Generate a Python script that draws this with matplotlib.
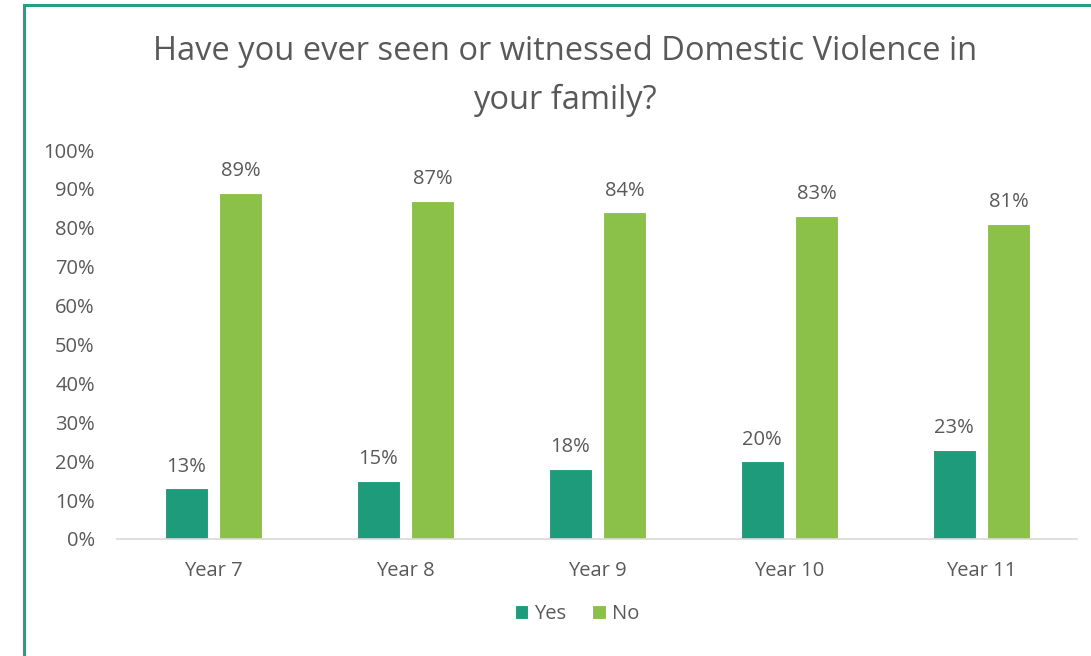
import matplotlib
matplotlib.use("Agg")
import matplotlib.pyplot as plt
import numpy as np
from matplotlib.patches import Rectangle

plt.rcParams['font.family'] = ['Open Sans', 'DejaVu Sans']

years = ["Year 7", "Year 8", "Year 9", "Year 10", "Year 11"]
yes_pct = [13, 15, 18, 20, 23]
no_pct = [89, 87, 84, 83, 81]

yes_col = "#1E9B7A"
no_col = "#8BC149"
grey = "#595959"

W, H = 1091, 656
fig = plt.figure(figsize=(W / 100, H / 100), dpi=100)

# green frame around the chart area (runs off the right/bottom edge)
fig.patches.append(Rectangle((24 / W, -0.1), 1.2, (H - 5) / H + 0.1, transform=fig.transFigure,
                             fill=False, edgecolor="#23A07E", linewidth=2.2))

ax = fig.add_axes([117 / W, 1 - 539 / H, (1077 - 117) / W, (539 - 150) / H])

x = np.arange(len(years))
bw = 0.225
ax.bar(x - 0.14, yes_pct, bw, color=yes_col, edgecolor="white", linewidth=0.8, label="Yes")
ax.bar(x + 0.145, no_pct, bw, color=no_col, edgecolor="white", linewidth=0.8, label="No")

for i in range(len(years)):
    ax.text(x[i] - 0.14, yes_pct[i] + 3, f"{yes_pct[i]}%", ha="center", va="bottom",
            fontsize=14.5, color=grey)
    ax.text(x[i] + 0.145, no_pct[i] + 3, f"{no_pct[i]}%", ha="center", va="bottom",
            fontsize=14.5, color=grey)

ax.set_xlim(-0.5, len(years) - 0.5)
ax.set_ylim(0, 100)
ax.set_yticks(range(0, 101, 10))
ax.set_yticklabels([f"{v}%" for v in range(0, 101, 10)])
ax.set_xticks(x)
ax.set_xticklabels(years)
ax.tick_params(axis="both", length=0, labelsize=14.5, colors=grey)
ax.tick_params(axis="y", pad=16)
ax.tick_params(axis="x", pad=16)
for s in ["top", "right", "left"]:
    ax.spines[s].set_visible(False)
ax.spines["bottom"].set_color("#D9D9D9")
ax.spines["bottom"].set_linewidth(1.2)

fig.text(565 / W, 1 - 76 / H, "Have you ever seen or witnessed Domestic Violence in\nyour family?",
         ha="center", va="center", fontsize=23.5, color=grey, linespacing=1.62)

fig.legend(loc="center", bbox_to_anchor=(577 / W, 1 - 614 / H), ncol=2, frameon=False,
           fontsize=14.5, labelcolor=grey, handlelength=0.65, handleheight=0.65,
           handletextpad=0.3, columnspacing=1.3)

fig.savefig("out.png", dpi=100)
